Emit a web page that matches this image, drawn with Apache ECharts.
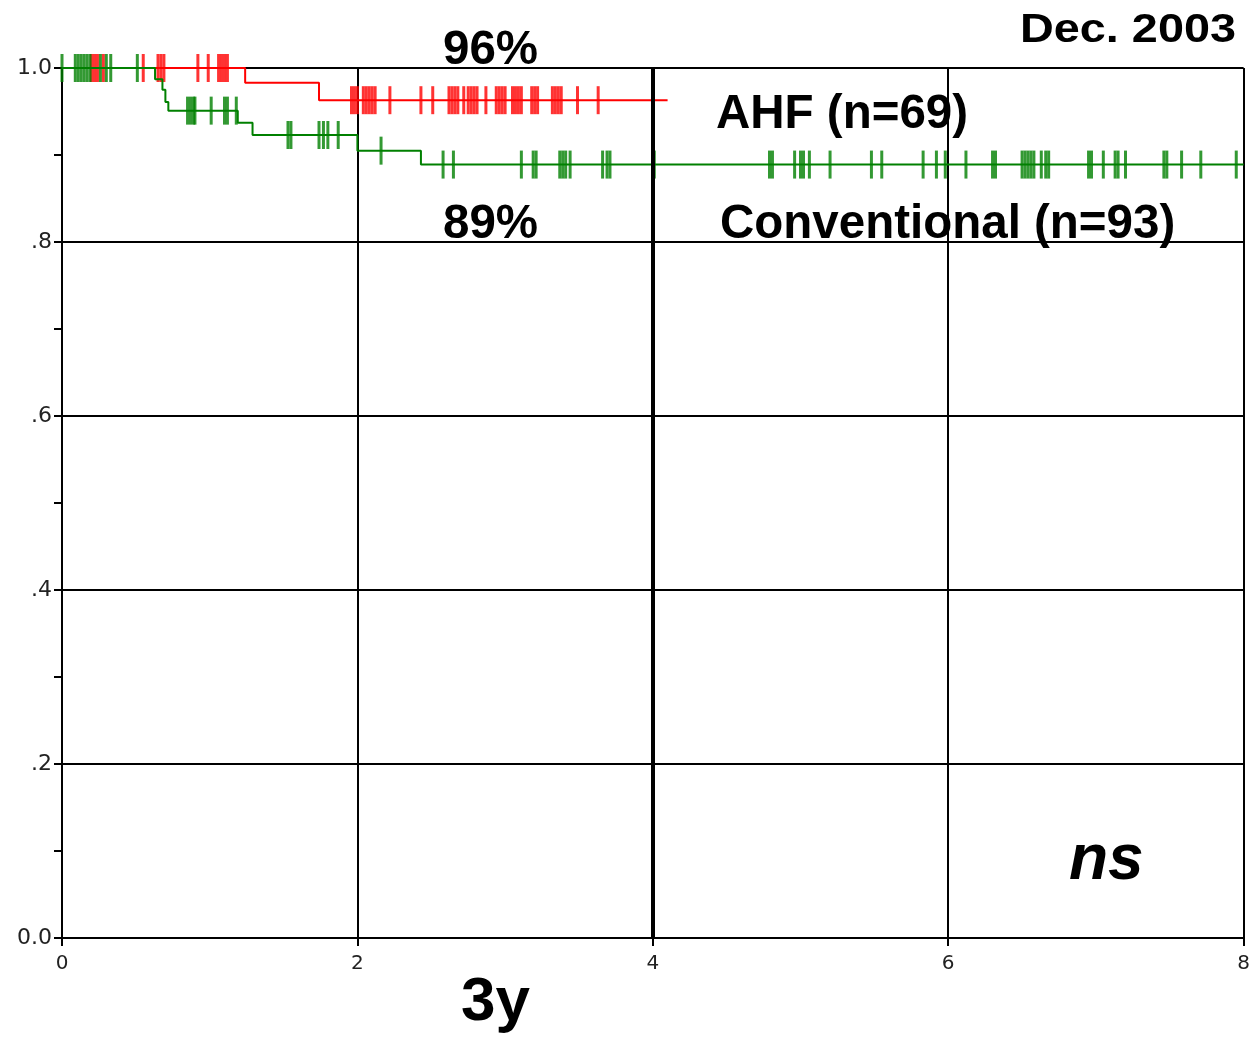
<!DOCTYPE html>
<html>
<head>
<meta charset="utf-8">
<script src="https://cdn.jsdelivr.net/npm/echarts@6/dist/echarts.min.js"></script>
<style>
html,body{margin:0;padding:0;background:#fff;}
#chart{width:1253px;height:1037px;}
</style>
</head>
<body>
<div id="chart"></div>
<script>
// ---- Data ----
var xTicks = [0, 2, 4, 6, 8];
var yTickLabels = ['0.0', '.2', '.4', '.6', '.8', '1.0'];

// AHF (n=69) Kaplan-Meier steps
var ahfStepTimes = [0, 1.24, 1.74];
var ahfStepSurv  = [1.0, 0.983, 0.963];
var ahfEndTime   = 4.10;
var ahfCensor = [0.20, 0.22, 0.24, 0.28, 0.55, 0.65, 0.67, 0.69, 0.92, 0.99, 1.06, 1.08, 1.10, 1.12,
  1.96, 1.98, 2.00, 2.04, 2.06, 2.08, 2.10, 2.12, 2.22, 2.43, 2.51, 2.62, 2.64, 2.66, 2.68,
  2.72, 2.75, 2.77, 2.79, 2.81, 2.87, 2.94, 2.96, 2.98, 3.00, 3.05, 3.07, 3.09, 3.11,
  3.18, 3.20, 3.22, 3.32, 3.34, 3.36, 3.38, 3.49, 3.63];

// Conventional (n=93) Kaplan-Meier steps
var convStepTimes = [0, 0.63, 0.68, 0.70, 0.72, 1.19, 1.29, 2.00, 2.43];
var convStepSurv  = [1.0, 0.987, 0.975, 0.961, 0.951, 0.937, 0.923, 0.905, 0.889];
var convEndTime   = 8.0;
var convCensor = [0.00, 0.09, 0.11, 0.13, 0.15, 0.17, 0.19, 0.26, 0.30, 0.33, 0.51,
  0.85, 0.87, 0.89, 0.90, 1.01, 1.10, 1.12, 1.18,
  1.53, 1.55, 1.74, 1.77, 1.80, 1.87, 2.16,
  2.58, 2.65, 3.11, 3.19, 3.21, 3.37, 3.39, 3.41, 3.44, 3.66, 3.69, 3.71, 4.01,
  4.79, 4.81, 4.96, 5.00, 5.02, 5.06, 5.20, 5.48, 5.55, 5.83, 5.92, 5.98,
  6.12, 6.30, 6.32, 6.50, 6.52, 6.54, 6.56, 6.58, 6.63, 6.66, 6.68,
  6.95, 6.97, 7.05, 7.13, 7.15, 7.20, 7.46, 7.48, 7.58, 7.71, 7.95];

// ---- Build series data from arrays ----
function stepLine(times, surv, end) {
  var d = times.map(function (t, i) { return [t, surv[i]]; });
  d.push([end, surv[surv.length - 1]]);
  return d;
}
function survAt(times, surv, t) {
  var s = surv[0];
  for (var i = 0; i < times.length; i++) { if (times[i] <= t) s = surv[i]; }
  return s;
}
function censorPts(cens, times, surv) {
  return cens.map(function (t) { return [t, survAt(times, surv, t)]; });
}

var RED = '#ff0000', GREEN = '#008000';
var chart = echarts.init(document.getElementById('chart'), null, {renderer: 'canvas'});
var boldFont = '"Liberation Sans", Arial, sans-serif';

chart.setOption({
  animation: false,
  backgroundColor: '#ffffff',
  grid: {left: 62, right: 8, top: 68, bottom: 99, containLabel: false},
  xAxis: {
    type: 'value', min: 0, max: 8, interval: 2,
    axisLine: {show: true, lineStyle: {color: '#000', width: 2}},
    axisTick: {show: true, length: 8, lineStyle: {color: '#000', width: 2}},
    axisLabel: {color: '#222', fontSize: 20, fontFamily: 'DejaVu Sans', margin: 16,
      formatter: function (v) { return xTicks.indexOf(v) >= 0 ? String(v) : ''; }},
    splitLine: {show: true, lineStyle: {color: '#000', width: 2}}
  },
  yAxis: {
    type: 'value', min: 0, max: 1, interval: 0.2,
    axisLine: {show: true, lineStyle: {color: '#000', width: 2}},
    axisTick: {show: true, length: 8, lineStyle: {color: '#000', width: 2}},
    minorTick: {show: true, splitNumber: 2, length: 8, lineStyle: {color: '#000', width: 2}},
    axisLabel: {color: '#222', fontSize: 22, fontFamily: 'DejaVu Sans', margin: 10,
      formatter: function (v) { return yTickLabels[Math.round(v * 5)]; }},
    splitLine: {show: true, lineStyle: {color: '#000', width: 2}}
  },
  series: [
    {
      name: 'AHF', type: 'line', step: 'end', showSymbol: false, symbol: 'none',
      lineStyle: {color: RED, width: 2}, z: 3,
      data: stepLine(ahfStepTimes, ahfStepSurv, ahfEndTime),
      markLine: {
        silent: true, symbol: 'none', label: {show: false},
        lineStyle: {color: '#000', width: 4, type: 'solid'},
        data: [{xAxis: 4}]
      }
    },
    {
      name: 'AHF censored', type: 'scatter', symbol: 'rect', symbolSize: [3, 28],
      itemStyle: {color: RED}, z: 3,
      data: censorPts(ahfCensor, ahfStepTimes, ahfStepSurv)
    },
    {
      name: 'Conventional', type: 'line', step: 'end', showSymbol: false, symbol: 'none',
      lineStyle: {color: GREEN, width: 2}, z: 4,
      data: stepLine(convStepTimes, convStepSurv, convEndTime)
    },
    {
      name: 'Conventional censored', type: 'scatter', symbol: 'rect', symbolSize: [3, 28],
      itemStyle: {color: GREEN}, z: 4,
      data: censorPts(convCensor, convStepTimes, convStepSurv)
    }
  ],
  graphic: [
    {type: 'text', left: 1020, top: 11, z: 10, scaleX: 1.17,
      style: {text: 'Dec. 2003', font: 'bold 40px ' + boldFont, fill: '#000'}},
    {type: 'text', left: 443, top: 27, z: 10,
      style: {text: '96%', font: 'bold 47.5px ' + boldFont, fill: '#000'}},
    {type: 'text', left: 716, top: 91, z: 10,
      style: {text: 'AHF (n=69)', font: 'bold 47.5px ' + boldFont, fill: '#000'}},
    {type: 'text', left: 443, top: 201, z: 10,
      style: {text: '89%', font: 'bold 47.5px ' + boldFont, fill: '#000'}},
    {type: 'text', left: 720, top: 201, z: 10,
      style: {text: 'Conventional (n=93)', font: 'bold 47.5px ' + boldFont, fill: '#000'}},
    {type: 'text', left: 1069, top: 829, z: 10,
      style: {text: 'ns', font: 'italic bold 64px ' + boldFont, fill: '#000'}},
    {type: 'text', left: 461, top: 972, z: 10,
      style: {text: '3y', font: 'bold 62px ' + boldFont, fill: '#000'}}
  ]
});
</script>
</body>
</html>
